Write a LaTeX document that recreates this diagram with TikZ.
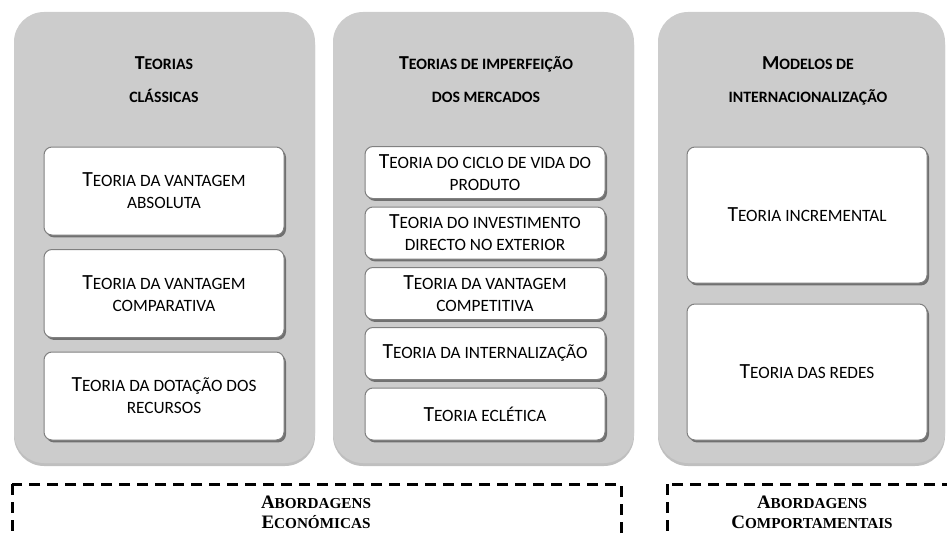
\documentclass[tikz,border=0pt]{standalone}
\usepackage{fontspec}
\setmainfont{Carlito}
\newfontfamily\approachfont{Liberation Serif}
\usetikzlibrary{shadows}
\makeatletter
\newcommand{\lsc}[1]{{\fontsize{\fpeval{0.8*\f@size}}{\f@baselineskip}\selectfont #1}}
\makeatother

\begin{document}
\begin{tikzpicture}[x=0.5pt, y=-0.5pt,
    panel/.style={fill=panelgray, rounded corners=15pt,
        drop shadow={shadow xshift=0pt, shadow yshift=-1.5pt, opacity=0.25, fill=black}},
    theorybox/.style={draw=boxgray, line width=0.5pt, fill=white, rounded corners=4pt,
        minimum width=120pt, align=center, inner sep=2pt,
        font=\fontsize{10.8}{11}\selectfont,
        drop shadow={shadow xshift=1pt, shadow yshift=-1.2pt, opacity=0.45, fill=black}},
    heading/.style={anchor=base, font=\bfseries\fontsize{9.9}{12}\selectfont},
    approach/.style={anchor=base, font=\approachfont\bfseries\fontsize{9.5}{11}\selectfont},
    frame/.style={line width=1.5pt, dash pattern=on 5.5pt off 3.5pt}]
    \definecolor{panelgray}{RGB}{204, 204, 204}
    \definecolor{boxgray}{RGB}{128, 128, 128}

    \clip (0,0) rectangle (947,535);

    % Grey columns
    \fill[panel] (14,12) rectangle (315,463);
    \fill[panel] (333,12) rectangle (634,463);
    \fill[panel] (658,12) rectangle (945,463);

    % Column headings
    \node[heading] (h1a) at (164,70) {T\lsc{EORIAS}};
    \node[heading] (h1b) at (164,102.7) {\lsc{CLÁSSICAS}};
    \node[heading] (h2a) at (486,70) {T\lsc{EORIAS DE IMPERFEIÇÃO}};
    \node[heading] (h2b) at (486,102.7) {\lsc{DOS MERCADOS}};
    \node[heading] (h3a) at (808,70) {M\lsc{ODELOS DE}};
    \node[heading] (h3b) at (808,102.7) {\lsc{INTERNACIONALIZAÇÃO}};

    % Classical theories
    \node[theorybox, minimum height=44pt] (abs) at (164,191)
        {T\lsc{EORIA DA VANTAGEM}\\\lsc{ABSOLUTA}};
    \node[theorybox, minimum height=44pt] (comp) at (164,293.5)
        {T\lsc{EORIA DA VANTAGEM}\\\lsc{COMPARATIVA}};
    \node[theorybox, minimum height=44pt] (dot) at (164,396)
        {T\lsc{EORIA DA DOTAÇÃO DOS}\\\lsc{RECURSOS}};

    % Market imperfection theories
    \node[theorybox, minimum height=26pt] (ciclo) at (485,172.5)
        {T\lsc{EORIA DO CICLO DE VIDA DO}\\\lsc{PRODUTO}};
    \node[theorybox, minimum height=26pt] (ide) at (485,233)
        {T\lsc{EORIA DO INVESTIMENTO}\\\lsc{DIRECTO NO EXTERIOR}};
    \node[theorybox, minimum height=26pt] (compet) at (485,293.5)
        {T\lsc{EORIA DA VANTAGEM}\\\lsc{COMPETITIVA}};
    \node[theorybox, minimum height=26pt] (intern) at (485,353.5)
        {T\lsc{EORIA DA INTERNALIZAÇÃO}};
    \node[theorybox, minimum height=26pt] (eclet) at (485,414)
        {T\lsc{EORIA ECLÉTICA}};

    % Internationalisation models
    \node[theorybox, minimum height=68pt] (incr) at (807,215)
        {T\lsc{EORIA INCREMENTAL}};
    \node[theorybox, minimum height=68pt] (redes) at (807,372)
        {T\lsc{EORIA DAS REDES}};

    % Approaches
    \draw[frame] (12,484) rectangle (621,600);
    \draw[frame] (667,484) rectangle (1000,600);
    \node[approach] (eco1) at (316,508) {A\lsc{BORDAGENS}};
    \node[approach] (eco2) at (316,528) {E\lsc{CONÓMICAS}};
    \node[approach] (beh1) at (812,508) {A\lsc{BORDAGENS}};
    \node[approach] (beh2) at (812,528) {C\lsc{OMPORTAMENTAIS}};
\end{tikzpicture}
\end{document}
